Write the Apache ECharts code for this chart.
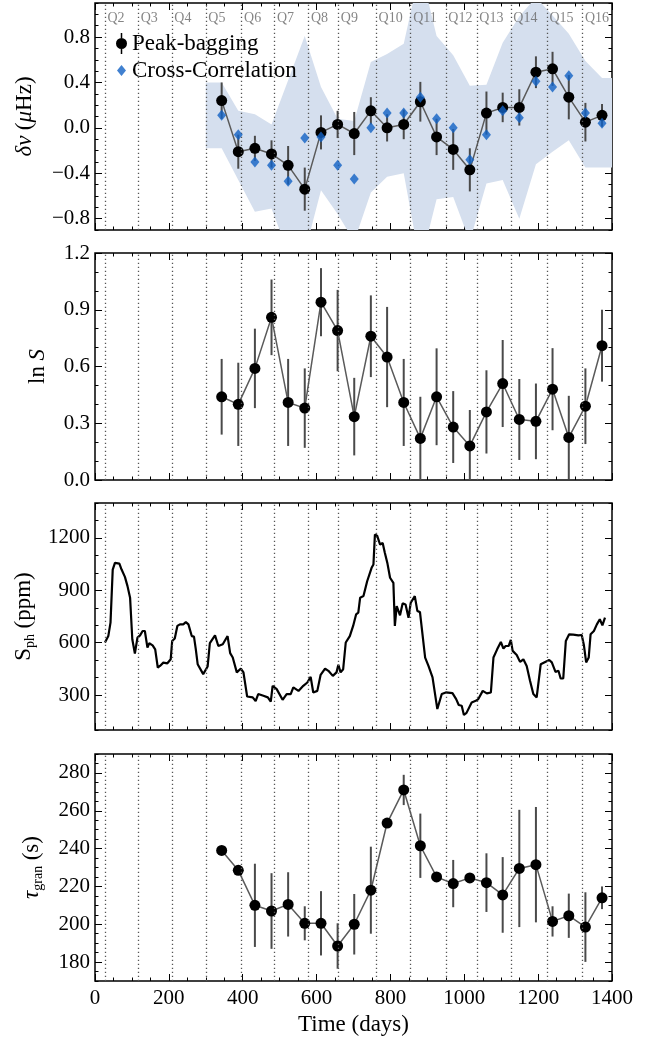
<!DOCTYPE html>
<html>
<head>
<meta charset="utf-8">
<script src="https://cdn.jsdelivr.net/npm/echarts@6/dist/echarts.min.js"></script>
<style>
  html, body { margin: 0; padding: 0; background: #fff; }
  #chart { width: 657px; height: 1040px; }
</style>
</head>
<body>
<div id="chart"></div>
<script>
// ---- data ----
const days = [343, 388, 433, 478, 523, 568, 612, 657, 702, 747, 791, 836, 881, 925, 970, 1015, 1060, 1104, 1149, 1194, 1239, 1283, 1328, 1373]

const dnuPB = [0.24, -0.21, -0.18, -0.23, -0.33, -0.54, -0.04, 0.03, -0.05, 0.15, 0.00, 0.03, 0.23, -0.08, -0.19, -0.37, 0.13, 0.18, 0.18, 0.49, 0.52, 0.27, 0.05, 0.11]
const dnuErr = [0.16, 0.15, 0.11, 0.12, 0.17, 0.19, 0.15, 0.12, 0.19, 0.12, 0.12, 0.13, 0.175, 0.16, 0.18, 0.19, 0.19, 0.13, 0.16, 0.14, 0.15, 0.195, 0.17, 0.10]
const dnuCC = [0.11, -0.06, -0.30, -0.33, -0.47, -0.09, -0.08, -0.33, -0.45, 0.00, 0.13, 0.13, 0.27, 0.08, 0.00, -0.28, -0.06, 0.15, 0.09, 0.41, 0.36, 0.46, 0.13, 0.04]

const bandDays = [300, 343, 388, 433, 478, 523, 568, 612, 657, 702, 747, 791, 836, 881, 925, 970, 1015, 1060, 1104, 1149, 1194, 1239, 1283, 1328, 1373, 1400]
const bandHi = [0.40, 0.40, 0.15, 0.12, 0.03, 0.42, 0.81, 0.36, 0.08, 0.06, 0.58, 0.65, 0.74, 1.40, 0.81, 0.64, 0.37, 0.38, 0.75, 0.98, 1.15, 0.99, 0.83, 0.59, 0.44, 0.44]
const bandLo = [-0.18, -0.18, -0.46, -0.74, -0.71, -1.10, -1.10, -0.55, -0.76, -1.00, -0.57, -0.43, -0.40, -1.20, -0.63, -0.61, -1.00, -0.49, -0.46, -0.80, -0.32, -0.21, -0.11, -0.35, -0.35, -0.35]

const lnS = [0.44, 0.40, 0.59, 0.86, 0.41, 0.38, 0.94, 0.79, 0.335, 0.76, 0.65, 0.41, 0.22, 0.44, 0.28, 0.18, 0.36, 0.51, 0.32, 0.31, 0.48, 0.225, 0.39, 0.71]
const lnSErr = [0.20, 0.22, 0.21, 0.20, 0.23, 0.21, 0.18, 0.215, 0.205, 0.216, 0.265, 0.23, 0.22, 0.256, 0.19, 0.19, 0.22, 0.23, 0.214, 0.20, 0.217, 0.22, 0.20, 0.19]

const spDays = [27, 36, 42, 48, 54, 66, 72, 81, 88, 95, 101, 108, 115, 122, 129, 135, 142, 147, 156, 163,
  170, 176, 185, 196, 205, 209, 216, 223, 230, 239, 246, 253, 262, 268, 273, 278, 293, 305, 311, 325,
  334, 346, 359, 366, 373, 384, 395, 402, 412, 427, 435, 442, 456, 468, 476, 481, 492, 508, 519, 530,
  537, 551, 564, 575, 584, 591, 602, 611, 623, 632, 644, 654, 659, 665, 672, 679, 690, 699, 707, 713,
  718, 727, 737, 749, 754, 758, 764, 772, 779, 785, 792, 799, 808, 812, 817, 826, 833, 841, 849, 855,
  866, 873, 880, 894, 903, 914, 927, 939, 950, 968, 978, 985, 993, 999, 1006, 1020, 1031, 1038, 1043, 1050,
  1061, 1072, 1079, 1089, 1099, 1106, 1112, 1120, 1126, 1131, 1142, 1151, 1160, 1169, 1178, 1187, 1196, 1200, 1207, 1219,
  1230, 1237, 1247, 1255, 1261, 1268, 1275, 1284, 1295, 1309, 1318, 1324, 1330, 1337, 1342, 1351, 1359, 1367, 1374, 1381]
const spVals = [601, 638, 715, 1019, 1057, 1053, 1019, 977, 924, 858, 620, 538, 629, 642, 667, 667, 572, 597, 585, 562,
  458, 467, 486, 482, 505, 610, 624, 696, 705, 705, 718, 705, 638, 635, 562, 477, 420, 464, 597, 642,
  581, 591, 638, 540, 515, 430, 452, 430, 292, 287, 266, 306, 296, 287, 262, 353, 334, 273, 306, 306,
  344, 324, 353, 372, 404, 315, 324, 416, 452, 439, 410, 430, 473, 430, 448, 601, 638, 696, 762, 772,
  858, 867, 952, 1029, 1048, 1219, 1213, 1162, 1171, 1114, 1053, 972, 943, 696, 810, 757, 825, 819, 743, 829,
  867, 781, 775, 515, 467, 401, 220, 306, 315, 311, 277, 243, 239, 186, 198, 258, 267, 277, 273, 324,
  310, 315, 515, 562, 604, 566, 581, 581, 616, 553, 530, 490, 505, 467, 382, 306, 287, 296, 477, 490,
  501, 487, 433, 439, 395, 395, 610, 648, 646, 642, 644, 585, 487, 515, 648, 667, 705, 734, 699, 743]

const tau = [239, 228.5, 210, 207, 210.5, 200.5, 200.5, 188.5, 200, 218, 253.5, 271, 241.5, 225, 221.5, 224.5, 222, 215.5, 229.5, 231.5, 201.5, 204.5, 198.5, 214]
const tauErr = [0, 0, 22, 20, 17, 9, 17, 12, 16, 23, 0, 8, 17, 0, 12.5, 0, 15.5, 20, 31, 30.5, 8, 11.7, 18.4, 6]

const qDays = [27, 117, 208, 300, 397, 486, 578, 659, 761, 855, 950, 1034, 1126, 1224, 1320]
const qLabels = ['Q2', 'Q3', 'Q4', 'Q5', 'Q6', 'Q7', 'Q8', 'Q9', 'Q10', 'Q11', 'Q12', 'Q13', 'Q14', 'Q15', 'Q16']

const xTicks = [0, 200, 400, 600, 800, 1000, 1200, 1400]
const y1Ticks = [-0.8, -0.4, 0, 0.4, 0.8]
const y2Ticks = [0, 0.3, 0.6, 0.9, 1.2]
const y3Ticks = [300, 600, 900, 1200]
const y4Ticks = [180, 200, 220, 240, 260, 280]

// ---- helpers ----
const FONT = 'Liberation Serif'
const steps = (a, b, s) => {
  const out = []
  for (let v = a; v <= b + 1e-9; v += s) out.push(+v.toFixed(4))
  return out
}
const fmt1 = v => v.toFixed(1).replace('-', '\u2212')
const fmt0 = v => String(Math.round(v))

const grids = [
  { left: 95, top: 3, width: 517, height: 227 },
  { left: 95, top: 253, width: 517, height: 227 },
  { left: 95, top: 503, width: 517, height: 227 },
  { left: 95, top: 754, width: 517, height: 227 }
].map(g => Object.assign(g, { show: true, borderColor: '#000', borderWidth: 1.5, backgroundColor: 'transparent' }))

const tickStyle = { color: '#000', width: 1 }
const noLine = { show: false, onZero: false }
const xAxes = []
const yAxes = []

function addX (gi, labels) {
  const base = { gridIndex: gi, type: 'value', min: 0, max: 1400, axisLine: noLine, splitLine: { show: false } }
  xAxes.push({
    ...base,
    position: 'bottom',
    axisTick: { inside: true, length: 7, customValues: xTicks, lineStyle: tickStyle },
    axisLabel: { show: labels, customValues: xTicks, formatter: fmt0, margin: 7, color: '#000', fontFamily: FONT, fontSize: 21 },
    name: labels ? 'Time (days)' : '',
    nameLocation: 'middle',
    nameGap: 32,
    nameTextStyle: { color: '#000', fontFamily: FONT, fontSize: 23 }
  })
  xAxes.push({ ...base, position: 'bottom', axisTick: { inside: true, length: 3.5, customValues: steps(0, 1400, 50), lineStyle: tickStyle }, axisLabel: { show: false } })
  xAxes.push({ ...base, position: 'top', axisTick: { inside: true, length: 7, customValues: xTicks, lineStyle: tickStyle }, axisLabel: { show: false } })
  xAxes.push({ ...base, position: 'top', axisTick: { inside: true, length: 3.5, customValues: steps(0, 1400, 50), lineStyle: tickStyle }, axisLabel: { show: false } })
}

function addY (gi, min, max, major, minorStep, fmt, name, gap, rich) {
  const base = { gridIndex: gi, type: 'value', min, max, axisLine: noLine, splitLine: { show: false } }
  const minor = steps(min, max, minorStep)
  yAxes.push({
    ...base,
    position: 'left',
    axisTick: { inside: true, length: 7, customValues: major, lineStyle: tickStyle },
    axisLabel: { customValues: major, formatter: fmt, margin: 5, color: '#000', fontFamily: FONT, fontSize: 21 },
    name,
    nameLocation: 'middle',
    nameRotate: 90,
    nameGap: gap,
    nameTextStyle: { color: '#000', fontFamily: FONT, fontSize: 22, lineHeight: 26, rich }
  })
  yAxes.push({ ...base, position: 'left', axisTick: { inside: true, length: 3.5, customValues: minor, lineStyle: tickStyle }, axisLabel: { show: false } })
  yAxes.push({ ...base, position: 'right', axisTick: { inside: true, length: 7, customValues: major, lineStyle: tickStyle }, axisLabel: { show: false } })
  yAxes.push({ ...base, position: 'right', axisTick: { inside: true, length: 3.5, customValues: minor, lineStyle: tickStyle }, axisLabel: { show: false } })
}

const it = { fontFamily: FONT, fontSize: 23, fontStyle: 'italic', lineHeight: 26 }
const rm = { fontFamily: FONT, fontSize: 23, lineHeight: 26 }
const sub = { fontFamily: FONT, fontSize: 14, lineHeight: 14, verticalAlign: 'bottom' }

for (let g = 0; g < 4; g++) addX(g, g === 3)
addY(0, -0.9, 1.1, y1Ticks, 0.1, fmt1, '{i|δν} {r|(}{i|μ}{r|Hz)}', 57, { i: it, r: rm })
addY(1, 0, 1.2, y2Ticks, 0.1, fmt1, '{r|ln} {i|S}', 44, { i: it, r: rm })
addY(2, 100, 1400, y3Ticks, 100, fmt0, '{r|S}{s|ph} {r|(ppm)}', 58, { r: rm, s: sub })
addY(3, 170, 290, y4Ticks, 5, fmt0, '{i|τ}{s|gran} {r|(s)}', 50, { i: it, r: rm, s: sub })

const errRender = (params, api) => {
  const x = api.value(0)
  const a = api.coord([x, api.value(1)])
  const b = api.coord([x, api.value(2)])
  return { type: 'line', shape: { x1: a[0], y1: a[1], x2: b[0], y2: b[1] }, style: { stroke: '#4a4a4a', lineWidth: 2 } }
}

// the whole band is drawn once, as one polygon through the axis scales
const bandRender = (params, api) => {
  if (params.dataIndex !== 0) return null
  const upper = bandDays.map((d, i) => api.coord([d, bandHi[i]]))
  const lower = bandDays.map((d, i) => api.coord([d, bandLo[i]])).reverse()
  const cs = params.coordSys
  return {
    type: 'group',
    clipPath: { type: 'rect', shape: { x: cs.x, y: cs.y, width: cs.width, height: cs.height } },
    children: [{ type: 'polygon', shape: { points: upper.concat(lower) }, style: { fill: '#d5dfee' } }]
  }
}

const quarterLines = {
  silent: true,
  symbol: 'none',
  label: { show: false },
  lineStyle: { type: [1.3, 2.7], color: '#555', width: 1.3 },
  emphasis: { disabled: true },
  data: qDays.map(d => ({ xAxis: d }))
}

function errSeries (gi, name, vals, errs) {
  return {
    type: 'custom',
    name,
    xAxisIndex: gi * 4,
    yAxisIndex: gi * 4,
    clip: true,
    itemStyle: { color: '#000' },
    renderItem: errRender,
    encode: { x: 0, y: [1, 2] },
    data: days.map((d, i) => [d, vals[i] - errs[i], vals[i] + errs[i]]),
    z: 3
  }
}

function pointLine (gi, name, vals) {
  return {
    type: 'line',
    name,
    xAxisIndex: gi * 4,
    yAxisIndex: gi * 4,
    data: days.map((d, i) => [d, vals[i]]),
    symbol: 'circle',
    symbolSize: 11,
    itemStyle: { color: '#000' },
    lineStyle: { color: '#5a5a5a', width: 1.5 },
    markLine: quarterLines,
    z: 4
  }
}

const pbIcon = 'path://M4.75,0 H6.25 V5 H4.75 Z M4.75,16 H6.25 V21 H4.75 Z M0,10.5 A5.5,5.5 0 1 1 11,10.5 A5.5,5.5 0 1 1 0,10.5 Z'
const ccIcon = 'path://M0,0 h0.01 v0.01 h-0.01 Z M11,21 h-0.01 v-0.01 h0.01 Z M5.5,5 L10,10.5 L5.5,16 L1,10.5 Z'

const option = {
  animation: false,
  backgroundColor: '#fff',
  grid: grids,
  xAxis: xAxes,
  yAxis: yAxes,
  legend: {
    orient: 'vertical',
    left: 116,
    top: 32,
    padding: 0,
    itemWidth: 11,
    itemHeight: 21,
    itemGap: 4,
    textStyle: { color: '#000', fontFamily: FONT, fontSize: 23 },
    data: [{ name: 'Peak-bagging', icon: pbIcon }, { name: 'Cross-Correlation', icon: ccIcon }]
  },
  series: [
    // panel 1
    {
      type: 'custom', name: 'band', xAxisIndex: 0, yAxisIndex: 0, clip: true, silent: true, z: 1,
      data: bandDays.map((d, i) => [d, bandLo[i], bandHi[i]]),
      encode: { x: 0, y: [1, 2] },
      renderItem: bandRender
    },
    errSeries(0, 'Peak-bagging', dnuPB, dnuErr),
    pointLine(0, 'pb-line', dnuPB),
    {
      type: 'scatter', name: 'Cross-Correlation', xAxisIndex: 0, yAxisIndex: 0,
      data: days.map((d, i) => [d, dnuCC[i]]), symbol: 'diamond', symbolSize: [9, 11],
      itemStyle: { color: '#1262c4' }, z: 5
    },
    {
      type: 'scatter', name: 'quarters', xAxisIndex: 0, yAxisIndex: 0,
      data: qDays.map(d => [d, 0.965]), symbolSize: 1, itemStyle: { color: 'transparent' }, silent: true,
      label: { show: true, position: 'right', distance: 2, formatter: p => qLabels[p.dataIndex], color: '#666', fontFamily: FONT, fontSize: 14 }
    },
    // panel 2
    errSeries(1, 'lnS-err', lnS, lnSErr),
    pointLine(1, 'lnS', lnS),
    // panel 3
    {
      type: 'line', name: 'Sph', xAxisIndex: 8, yAxisIndex: 8,
      data: spDays.map((d, i) => [d, spVals[i]]), symbol: 'none',
      lineStyle: { color: '#000', width: 2.2 }, markLine: quarterLines, z: 4
    },
    // panel 4
    errSeries(3, 'tau-err', tau, tauErr),
    pointLine(3, 'tau', tau)
  ]
}

const chart = echarts.init(document.getElementById('chart'))
chart.setOption(option)
</script>
</body>
</html>
